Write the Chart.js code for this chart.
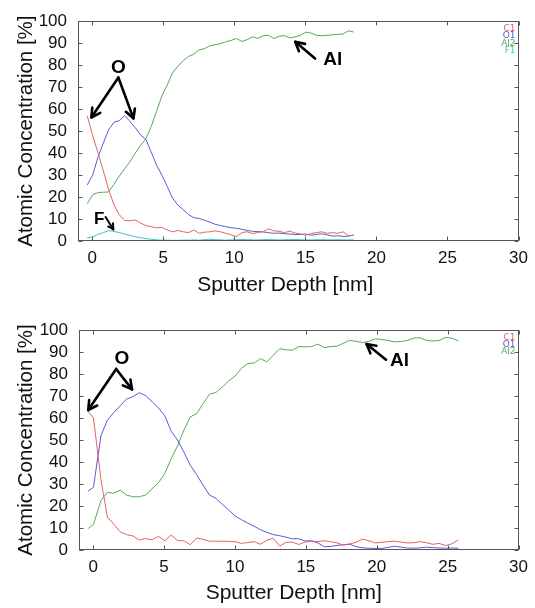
<!DOCTYPE html>
<html><head><meta charset="utf-8">
<script src="https://cdn.jsdelivr.net/npm/chart.js@4"></script>
<style>
html,body{margin:0;padding:0;background:#fff;}
#wrap{position:relative;width:535px;height:608px;overflow:hidden;}
.box{position:absolute;left:0;width:535px;height:300px;}
canvas{display:block;}
</style></head><body>
<div id="wrap">
<div class="box" style="top:0"><canvas id="c1" width="535" height="300"></canvas></div>
<div class="box" style="top:308px"><canvas id="c2" width="535" height="300"></canvas></div>
</div>
<script>
// ---- tick labels ----
const xTickValues = [0, 5, 10, 15, 20, 25, 30];
const yTickValues = [0, 10, 20, 30, 40, 50, 60, 70, 80, 90, 100];

// ---- top profile ----
const depthTop = [-0.35,0.03,0.4,0.78,1.15,1.53,1.9,2.28,2.65,3.03,3.4,3.78,4.15,4.53,4.9,5.28,5.65,6.03,6.4,6.78,7.15,7.53,7.9,8.28,8.65,9.03,9.4,9.78,10.15,10.53,10.9,11.28,11.65,12.03,12.4,12.78,13.15,13.53,13.9,14.28,14.65,15.03,15.4,15.78,16.15,16.53,16.9,17.28,17.65,18.03,18.4];
const c1Top = [57,48,40.3,32,23.5,16.5,12,9.3,9.2,9.6,8.2,7,6.5,6,6.2,5,4.2,4.8,4.2,3.8,5,3.5,4,4.2,4.6,4.2,3.5,2.8,2,3.8,4.2,3.4,3.8,4.3,5.5,4.6,4.4,3.8,4.5,3.6,3.2,2.6,3.4,3.8,4.2,3.5,3.8,3.5,4.2,2.4,2.6];
const o1Top = [25.5,30,38,44.5,50.5,54,54.8,57,54.5,51.5,48.3,46.2,40.5,34.5,30,24.8,19.5,16.3,14.3,12,10.6,10.2,9.4,8.6,7.6,7,6.5,6,5.8,5.3,4.8,4.4,4.3,4.1,3.8,3.5,3.6,3.3,3.2,2.9,3,3.2,2.6,3,3.3,2.8,2.2,2.4,2.1,2.2,2.8];
const al2Top = [17,21,22,22.2,22.3,25.8,29.5,32.8,36,40,43.5,46.5,52,59,66,71,76.5,79.5,82,84,85,87,87.5,88.8,89.3,89.8,90.6,91.3,92.1,90.8,91.6,92.9,92.2,93.4,93.6,92.1,93.2,93.4,92.4,92.9,93.6,95,94.6,93.6,93.4,93.6,93.8,94,94.2,95.6,95.1];
const f1Top = [1.5,1.8,3,3.8,4.7,4.4,3.8,3.2,2.6,1.9,1.5,1.1,0.8,0.5,0.4,0.4,0.3,0.3,0.4,0.4,0.5,0.4,0.6,0.8,0.6,0.5,0.4,0.5,0.6,0.7,0.6,0.5,0.5,0.6,0.7,0.6,0.5,0.6,0.6,0.7,0.6,0.5,0.5,0.6,0.6,0.5,0.5,0.6,0.5,0.5,0.5];

// ---- bottom profile ----
const depthBottom = [-0.35,0.02,0.55,1,1.45,1.9,2.35,2.8,3.25,3.7,4.15,4.6,5.05,5.5,5.95,6.4,6.85,7.3,7.75,8.2,8.65,9.1,9.55,10,10.45,10.9,11.35,11.8,12.25,12.7,13.15,13.6,14.05,14.5,14.95,15.4,15.85,16.3,16.75,17.2,17.65,18.1,18.55,19,19.45,19.9,20.35,20.8,21.25,21.7,22.15,22.6,23.05,23.5,23.95,24.4,24.85,25.3,25.75];
const c1Bottom = [63,60,32,15,11.8,8.3,7,6.4,4.5,5.2,4.6,6.2,4.2,6.8,4.3,4.2,2.4,5.5,4.8,4,4,4,3.9,3.8,3,3.4,3.8,2.6,4.5,5.3,1.8,3.5,3.6,2.5,3.6,4,3.8,4.2,3.8,3.2,2.2,2.8,3.5,5,4.2,3.2,3.5,3.8,4,3.6,3.2,3.3,3.8,3.3,2.6,3,2,2.8,4.6];
const o1Bottom = [26.8,28.5,52,59,62.5,65.5,68.6,69.7,71.5,70.2,67.5,64.6,61,54,50,44.5,38.5,34.2,29.5,25,23.5,20.8,18.3,15.5,13.8,12.3,10.8,9.2,8,7,6.5,5.8,5.1,5.1,4.1,4.2,3.2,1.5,1.6,2.1,2.4,2.6,1.5,1,0.8,0.7,0.7,1.2,1.7,1.3,0.9,0.8,1,1.3,1.1,0.9,0.8,0.9,0.8];
const al2Bottom = [9.8,11.6,22.5,26.2,25.8,27.2,25,24.2,24.2,25,27.8,30.5,34.8,41.5,47.3,54.5,60.5,62,66.5,70.8,71.6,74,76.8,79,82.5,84.8,85,87,85.5,88.5,91.5,91,90.8,92.5,92.3,92.5,93.6,92,92.5,92.6,94,95.3,94.8,94.3,94.8,96,95.7,95.2,94.6,94.8,95.2,96.3,96.5,95.3,95,95.3,96.6,96.3,95.1];

const COLORS = {C1:'#e06464', O1:'#5a5ad6', Al2:'#5aa85a', F1:'#40c4c4'};
const FONT = "'Liberation Sans', Arial, sans-serif";
const X_TITLE = 'Sputter Depth [nm]';

const topNotes = {
  labels: [{t:'O', x:1.85, y:78.7}, {t:'F', x:0.49, y:10, size:17}, {t:'Al', x:16.93, y:82.3}],
  arrows: [
    {x1:1.84, y1:74.4, x2:-0.06, y2:56.2},
    {x1:1.84, y1:74.4, x2:2.9, y2:55.8},
    {x1:0.94, y1:10.9, x2:1.49, y2:5.3, small:true},
    {x1:15.68, y1:83, x2:14.29, y2:90.6}
  ]
};
const bottomNotes = {
  labels: [{t:'O', x:2.03, y:86.7}, {t:'Al', x:21.6, y:86}],
  arrows: [
    {x1:1.62, y1:82.3, x2:-0.35, y2:63.6},
    {x1:1.62, y1:82.3, x2:2.74, y2:73},
    {x1:20.65, y1:86.5, x2:19.28, y2:93.6}
  ]
};

function drawArrow(ctx, x1, y1, x2, y2, small) {
  const lw = small ? 2 : 2.6, hl = small ? 6 : 10, ha = 0.5;
  ctx.lineWidth = lw; ctx.strokeStyle = '#000'; ctx.lineCap = 'round'; ctx.lineJoin = 'round';
  ctx.beginPath(); ctx.moveTo(x1, y1); ctx.lineTo(x2, y2); ctx.stroke();
  const a = Math.atan2(y2 - y1, x2 - x1);
  ctx.beginPath();
  ctx.moveTo(x2 - hl * Math.cos(a - ha), y2 - hl * Math.sin(a - ha));
  ctx.lineTo(x2, y2);
  ctx.lineTo(x2 - hl * Math.cos(a + ha), y2 - hl * Math.sin(a + ha));
  ctx.stroke();
}

function framePlugin(names, notes, o) {
  return {
    id: 'frame',
    afterDraw(chart) {
      const {ctx, chartArea: {left, right, top, bottom}, scales: {x, y}} = chart;
      ctx.save();
      ctx.strokeStyle = '#555'; ctx.lineWidth = 1;
      const L = Math.round(left) + 0.5, R = Math.round(right) - 0.5, T = Math.round(top) + 0.5, B = Math.round(bottom) - 0.5;
      ctx.strokeRect(L, T, R - L, B - T);
      ctx.beginPath();
      xTickValues.forEach(v => {
        const p = Math.round(x.getPixelForValue(v)) + 0.5;
        ctx.moveTo(p, B); ctx.lineTo(p, B - 4);
        ctx.moveTo(p, T); ctx.lineTo(p, T + 4);
      });
      yTickValues.forEach(v => {
        const p = Math.round(y.getPixelForValue(v)) + 0.5;
        ctx.moveTo(L, p); ctx.lineTo(L + 4, p);
        ctx.moveTo(R, p); ctx.lineTo(R - 4, p);
      });
      ctx.stroke();
      // x-axis title
      ctx.fillStyle = '#111'; ctx.textAlign = 'center'; ctx.textBaseline = 'middle';
      ctx.font = '21px ' + FONT;
      ctx.fillText(X_TITLE, (left + right) / 2 + o.titleShift, chart.height - 15);
      // legend
      ctx.font = "9px 'DejaVu Sans', sans-serif";
      ctx.textAlign = 'right'; ctx.textBaseline = 'middle';
      names.forEach((n, i) => {
        ctx.fillStyle = COLORS[n];
        ctx.fillText(n, right - 3, top + 7.5 + i * 7.3);
      });
      // annotations
      notes.arrows.forEach(a => drawArrow(ctx, x.getPixelForValue(a.x1), y.getPixelForValue(a.y1),
        x.getPixelForValue(a.x2), y.getPixelForValue(a.y2), a.small));
      ctx.fillStyle = '#000'; ctx.textAlign = 'center'; ctx.textBaseline = 'middle';
      notes.labels.forEach(l => {
        ctx.font = 'bold ' + (l.size || 19) + 'px ' + FONT;
        ctx.fillText(l.t, x.getPixelForValue(l.x), y.getPixelForValue(l.y));
      });
      ctx.restore();
    }
  };
}

function makeChart(id, depth, series, notes, o) {
  const datasets = series.map(s => ({
    label: s.name,
    data: depth.map((d, i) => ({x: d, y: s.values[i]})),
    borderColor: COLORS[s.name], borderWidth: 1, pointRadius: 0, tension: 0, fill: false
  }));
  return new Chart(document.getElementById(id), {
    type: 'line',
    data: {datasets},
    options: {
      responsive: false, animation: false, devicePixelRatio: 1,
      layout: {padding: {top: o.top, right: o.right, left: 0, bottom: 0}},
      plugins: {legend: {display: false}, tooltip: {enabled: false}},
      scales: {
        x: {
          type: 'linear', min: -1, max: 30,
          afterBuildTicks: s => { s.ticks = xTickValues.map(v => ({value: v})); },
          afterFit: s => { s.height = o.xh; },
          grid: {display: false, drawTicks: false}, border: {display: false},
          ticks: {font: {family: FONT, size: 17}, color: '#111', padding: 7, maxRotation: 0, autoSkip: false},
          title: {display: false}
        },
        y: {
          type: 'linear', min: 0, max: 100,
          afterBuildTicks: s => { s.ticks = yTickValues.map(v => ({value: v})); },
          afterFit: s => { s.width = o.yw; },
          grid: {display: false, drawTicks: false}, border: {display: false},
          ticks: {font: {family: FONT, size: 17}, color: '#111', padding: 11, autoSkip: false},
          title: {display: true, text: 'Atomic Concentration [%]', font: {family: FONT, size: 20.5}, color: '#111', padding: {top: 14, bottom: 0}}
        }
      }
    },
    plugins: [framePlugin(series.map(s => s.name), notes, o)]
  });
}

makeChart('c1', depthTop, [
  {name: 'C1', values: c1Top},
  {name: 'O1', values: o1Top},
  {name: 'Al2', values: al2Top},
  {name: 'F1', values: f1Top}
], topNotes, {top: 21, right: 12, xh: 59, yw: 78, titleShift: -13});

makeChart('c2', depthBottom, [
  {name: 'C1', values: c1Bottom},
  {name: 'O1', values: o1Bottom},
  {name: 'Al2', values: al2Bottom}
], bottomNotes, {top: 22, right: 11, xh: 58, yw: 79, titleShift: -5});
</script>
</body></html>
